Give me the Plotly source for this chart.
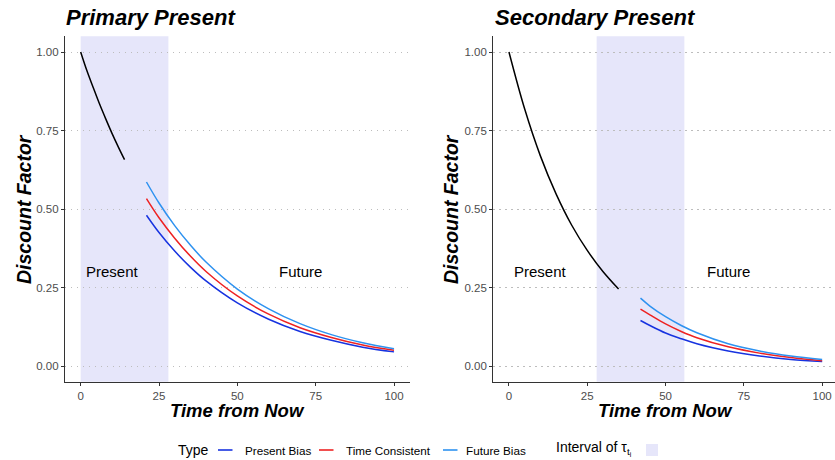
import plotly.graph_objects as go

# ---------------- data ----------------
panel_titles = ["Primary Present", "Secondary Present"]
interval_primary = [0, 28]
interval_secondary = [28, 56]

t_black_primary = [0, 2, 4, 6, 8, 10, 12, 14]
df_black_primary = [1.00, 0.940, 0.887, 0.835, 0.787, 0.741, 0.698, 0.657]

t_future_primary = [21, 25, 30, 35, 40, 50, 60, 70, 80, 90, 100]
present_bias_primary = [0.480, 0.425, 0.366, 0.315, 0.271, 0.201, 0.149, 0.110, 0.082, 0.060, 0.045]
time_consistent_primary = [0.533, 0.472, 0.407, 0.350, 0.301, 0.223, 0.165, 0.122, 0.091, 0.067, 0.050]
future_bias_primary = [0.586, 0.519, 0.447, 0.385, 0.331, 0.245, 0.182, 0.135, 0.100, 0.074, 0.055]

t_black_secondary = [0, 5, 10, 15, 20, 25, 30, 35]
df_black_secondary = [1.00, 0.819, 0.670, 0.549, 0.449, 0.368, 0.301, 0.245]

t_future_secondary = [42, 45, 50, 55, 60, 70, 80, 90, 100]
present_bias_secondary = [0.145, 0.129, 0.105, 0.087, 0.071, 0.048, 0.032, 0.021, 0.014]
time_consistent_secondary = [0.181, 0.163, 0.134, 0.110, 0.090, 0.061, 0.041, 0.027, 0.017]
future_bias_secondary = [0.216, 0.191, 0.157, 0.129, 0.106, 0.071, 0.048, 0.032, 0.021]

y_ticks = [0, 0.25, 0.5, 0.75, 1.0]
x_ticks = [0, 25, 50, 75, 100]

type_names = ["Present Bias", "Time Consistent", "Future Bias"]
type_colors = ["#1733E0", "#EE2222", "#2E92F0"]
shade_color = "#E6E6FA"

# ---------------- figure ----------------
W, H = 835, 460
FONT = "Liberation Sans, Arial, Helvetica, sans-serif"

def px(x):
    return x / W

def py(y):
    return 1 - y / H

fig = go.Figure()

panels = [
    dict(xa="x", ya="y", t_black=t_black_primary, d_black=df_black_primary,
         t_fut=t_future_primary,
         series=[present_bias_primary, time_consistent_primary, future_bias_primary],
         interval=interval_primary),
    dict(xa="x2", ya="y2", t_black=t_black_secondary, d_black=df_black_secondary,
         t_fut=t_future_secondary,
         series=[present_bias_secondary, time_consistent_secondary, future_bias_secondary],
         interval=interval_secondary),
]

for p in panels:
    fig.add_trace(go.Scatter(x=p["t_black"], y=p["d_black"], mode="lines",
                             line=dict(color="black", width=1.5, shape="spline"),
                             xaxis=p["xa"], yaxis=p["ya"], showlegend=False, hoverinfo="skip"))
    for name, col, vals in zip(type_names, type_colors, p["series"]):
        fig.add_trace(go.Scatter(x=p["t_fut"], y=vals, mode="lines", name=name,
                                 line=dict(color=col, width=1.5, shape="spline"),
                                 xaxis=p["xa"], yaxis=p["ya"], showlegend=False))
    fig.add_shape(type="rect", xref=p["xa"], yref=p["ya"] + " domain",
                  x0=p["interval"][0], x1=p["interval"][1], y0=0, y1=1,
                  fillcolor=shade_color, line=dict(width=0), layer="below")
    fig.add_annotation(x=10, y=0.30, xref=p["xa"], yref=p["ya"], text="Present",
                       showarrow=False, font=dict(size=15, color="black", family=FONT))
    fig.add_annotation(x=70, y=0.30, xref=p["xa"], yref=p["ya"], text="Future",
                       showarrow=False, font=dict(size=15, color="black", family=FONT))

axis_common = dict(showline=True, linecolor="#333333", linewidth=1.3,
                   ticks="outside", ticklen=3, tickcolor="#333333", tickwidth=1.1,
                   tickfont=dict(size=11.5, color="#4D4D4D", family=FONT),
                   zeroline=False)

grid = dict(showgrid=True, gridcolor="#BDBDBD", griddash="1.3px,4.7px", gridwidth=1.2)

y_dom = [py(381.7), py(36.3)]
fig.update_layout(
    width=W, height=H,
    margin=dict(l=0, r=0, t=0, b=0),
    paper_bgcolor="white", plot_bgcolor="white",
    font=dict(family=FONT),
    xaxis=dict(domain=[px(65), px(409.7)], range=[-5, 105], tickvals=x_ticks,
               showgrid=False, anchor="y", **axis_common),
    yaxis=dict(domain=y_dom, range=[-0.05, 1.05], tickvals=y_ticks, tickformat=".2f",
               anchor="x", **grid, **axis_common),
    xaxis2=dict(domain=[px(493.3), 1.0], range=[-5, 104.1], tickvals=x_ticks,
                showgrid=False, anchor="y2", **axis_common),
    yaxis2=dict(domain=y_dom, range=[-0.05, 1.05], tickvals=y_ticks, tickformat=".2f",
                anchor="x2", **grid, **axis_common),
    showlegend=False,
)

title_font = dict(size=22, color="black", family=FONT)
axis_title_font = dict(size=18.5, color="black", family=FONT)

# Panel titles
for text, xl in zip(panel_titles, [64, 493]):
    fig.add_annotation(x=px(xl), y=py(17), xref="paper", yref="paper",
                       text="<b><i>" + text + "</i></b>", showarrow=False,
                       xanchor="left", yanchor="middle", font=title_font)

# Axis titles
for xc in [237.5, 665]:
    fig.add_annotation(x=px(xc), y=py(410), xref="paper", yref="paper",
                       text="<b><i>Time from Now</i></b>", showarrow=False,
                       xanchor="center", yanchor="middle", font=axis_title_font)
for xc in [24, 451]:
    fig.add_annotation(x=px(xc), y=py(209), xref="paper", yref="paper",
                       text="<b><i>Discount Factor</i></b>", showarrow=False, textangle=-90,
                       xanchor="center", yanchor="middle",
                       font=dict(size=19.5, color="black", family=FONT))

# Manual legend
ly = 450
fig.add_annotation(x=px(176), y=py(ly), xref="paper", yref="paper", text="Type",
                   showarrow=False, xanchor="left", yanchor="middle",
                   font=dict(size=14, color="black", family=FONT))
legend_items = [(218, 243), (319, 344), (443, 464)]
for (lx, tx), name, col in zip(legend_items, type_names, type_colors):
    fig.add_shape(type="line", xref="paper", yref="paper",
                  x0=px(lx), x1=px(lx + 14.5), y0=py(ly), y1=py(ly),
                  line=dict(color=col, width=1.6))
    fig.add_annotation(x=px(tx), y=py(ly), xref="paper", yref="paper", text=name,
                       showarrow=False, xanchor="left", yanchor="middle",
                       font=dict(size=11.7, color="black", family=FONT))
fig.add_annotation(x=px(554), y=py(ly - 2), xref="paper", yref="paper",
                   text="Interval of τ<sub>t<sub>i</sub></sub>",
                   showarrow=False, xanchor="left", yanchor="middle",
                   font=dict(size=14, color="black", family=FONT))
fig.add_shape(type="rect", xref="paper", yref="paper",
              x0=px(646), x1=px(658), y0=py(ly + 6), y1=py(ly - 6),
              fillcolor=shade_color, line=dict(width=0))

fig.write_html("out.html")
